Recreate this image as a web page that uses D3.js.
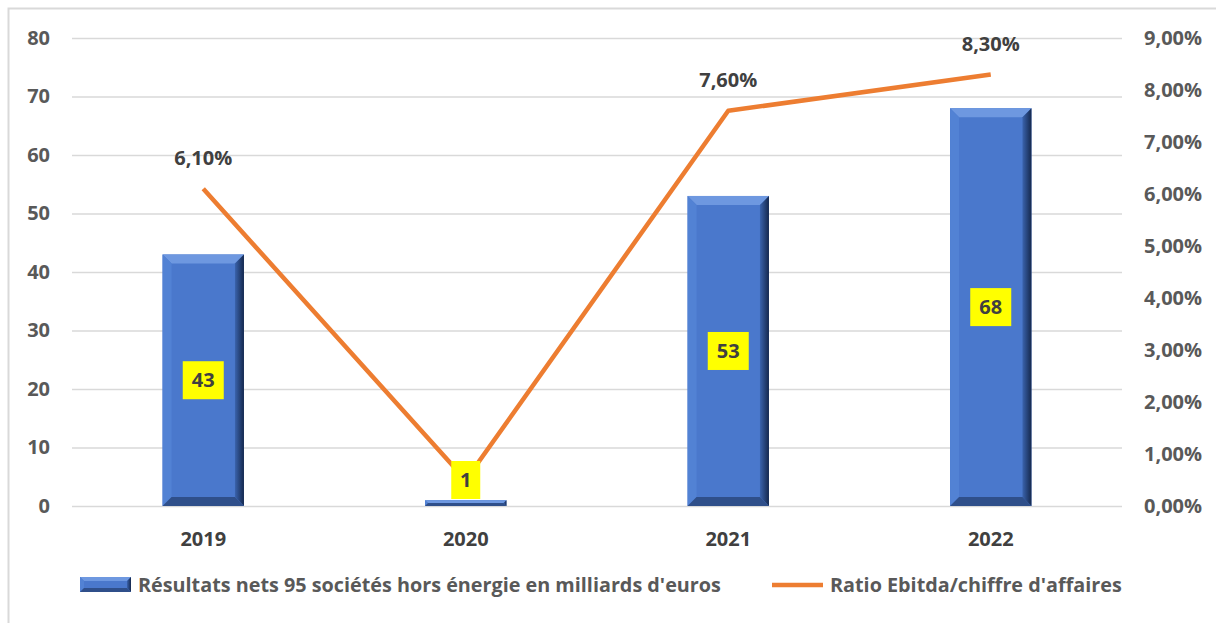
<!DOCTYPE html>
<html><head><meta charset="utf-8">
<script src="https://cdn.jsdelivr.net/npm/d3@7"></script>
<style>body{margin:0;background:#fff}svg{display:block}text{font-family:"Open Sans",sans-serif;font-weight:700}</style>
</head><body><svg id="c" width="1216" height="623"></svg>
<script>
const categories = ["2019","2020","2021","2022"];
const barValues = [43, 1, 53, 68];
const ratioValues = [6.1, 0.5, 7.6, 8.3];
const ratioLabels = ["6,10%", "", "7,60%", "8,30%"];
const leftTicks = [0,10,20,30,40,50,60,70,80];
const rightTicks = [0,1,2,3,4,5,6,7,8,9];
const barSeriesName = "Résultats nets 95 sociétés hors énergie en milliards d'euros";
const lineSeriesName = "Ratio Ebitda/chiffre d'affaires";

const svg = d3.select("#c");
const m={l:72,r:1122,t:38,b:506};
svg.append("rect").attr("x",8.5).attr("y",8.5).attr("width",1240).attr("height",640).attr("fill","#fff").attr("stroke","#d9d9d9").attr("stroke-width",2);

const x=d3.scaleBand().domain(categories).range([m.l,m.r]).paddingInner(0.69).paddingOuter(0.345);
const y=d3.scaleLinear().domain([0,80]).range([m.b,m.t]);
const y2=d3.scaleLinear().domain([0,9]).range([m.b,m.t]);

const gl=d3.axisLeft(y).tickValues(leftTicks).tickSize(-(m.r-m.l)).tickFormat(d=>d);
const ga=svg.append("g").attr("transform",`translate(${m.l},0)`).call(gl);
ga.select(".domain").remove();
ga.selectAll("line").attr("stroke","#d9d9d9").attr("stroke-width",1.5);
ga.selectAll("text").attr("x",-22).attr("fill","#595959").style("font-size","20px");

const gr=d3.axisRight(y2).tickValues(rightTicks).tickSize(0).tickFormat(d=>d3.format(".2f")(d).replace(".",",")+"%");
const gra=svg.append("g").attr("transform",`translate(${m.r},0)`).call(gr);
gra.select(".domain").remove();
gra.selectAll("text").attr("x",22).attr("fill","#595959").style("font-size","20px");

const gx=d3.axisBottom(x).tickSize(0);
const gxa=svg.append("g").attr("transform",`translate(0,${m.b})`).call(gx);
gxa.select(".domain").remove();
gxa.selectAll("text").attr("dy","0").attr("y",40).attr("fill","#404040").style("font-size","20px");

function bevel(g,x0,y0,w,h,b){
  b=Math.min(b,h/2,w/2);
  const x1=x0+w,y1=y0+h;
  g.append("rect").attr("x",x0).attr("y",y0).attr("width",w).attr("height",h).attr("fill","#4a78cc");
  g.append("polygon").attr("points",[[x0,y0],[x1,y0],[x1-b,y0+b],[x0+b,y0+b]].join(" ")).attr("fill","#6e98e0");
  g.append("polygon").attr("points",[[x0,y0],[x0+b,y0+b],[x0+b,y1-b],[x0,y1]].join(" ")).attr("fill","#5282d4");
  g.append("polygon").attr("points",[[x1,y0],[x1,y1],[x1-b,y1-b],[x1-b,y0+b]].join(" ")).attr("fill","url(#rg)");
  g.append("polygon").attr("points",[[x0,y1],[x0+b,y1-b],[x1-b,y1-b],[x1,y1]].join(" ")).attr("fill","#2f4f8a");
}
const defs=svg.append("defs");
const rg=defs.append("linearGradient").attr("id","rg").attr("x1",0).attr("x2",1).attr("y1",0).attr("y2",0);
rg.append("stop").attr("offset",0).attr("stop-color","#3a63ad");
rg.append("stop").attr("offset",1).attr("stop-color","#15284d");

const bars=svg.append("g");
categories.forEach((c,i)=>{
  const y0=y(barValues[i]);
  bevel(bars,x(c),y0,x.bandwidth(),m.b-y0,9);
});

const cx=d=>x(d)+x.bandwidth()/2;
const line=d3.line().x((d,i)=>cx(categories[i])).y(d=>y2(d));
svg.append("path").datum(ratioValues).attr("d",line).attr("fill","none").attr("stroke","#ed7d31").attr("stroke-width",4.5).attr("stroke-linejoin","round");

categories.forEach((c,i)=>{
  const h=m.b-y(barValues[i]);
  let cy=y(barValues[i]/2);
  if(h<40) cy=m.b-26;
  const t=String(barValues[i]);
  const w=t.length*12+17;
  svg.append("rect").attr("x",cx(c)-w/2).attr("y",cy-19).attr("width",w).attr("height",38).attr("fill","#ffff00");
  svg.append("text").attr("x",cx(c)).attr("y",cy).attr("dy","0.36em").attr("text-anchor","middle").attr("fill","#404040").style("font-size","20px").text(t);
});
categories.forEach((c,i)=>{
  if(!ratioLabels[i]) return;
  svg.append("text").attr("x",cx(c)).attr("y",y2(ratioValues[i])-31).attr("dy","0.36em").attr("text-anchor","middle").attr("fill","#404040").style("font-size","20px").text(ratioLabels[i]);
});

const lg=svg.append("g");
bevel(lg,80,577,51,15,4);
lg.append("text").attr("x",138).attr("y",585).attr("dy","0.36em").attr("fill","#595959").style("font-size","19.8px").text(barSeriesName);
lg.append("line").attr("x1",772).attr("x2",823).attr("y1",585).attr("y2",585).attr("stroke","#ed7d31").attr("stroke-width",4.5);
lg.append("text").attr("x",830).attr("y",585).attr("dy","0.36em").attr("fill","#595959").style("font-size","19.8px").text(lineSeriesName);
</script></body></html>
